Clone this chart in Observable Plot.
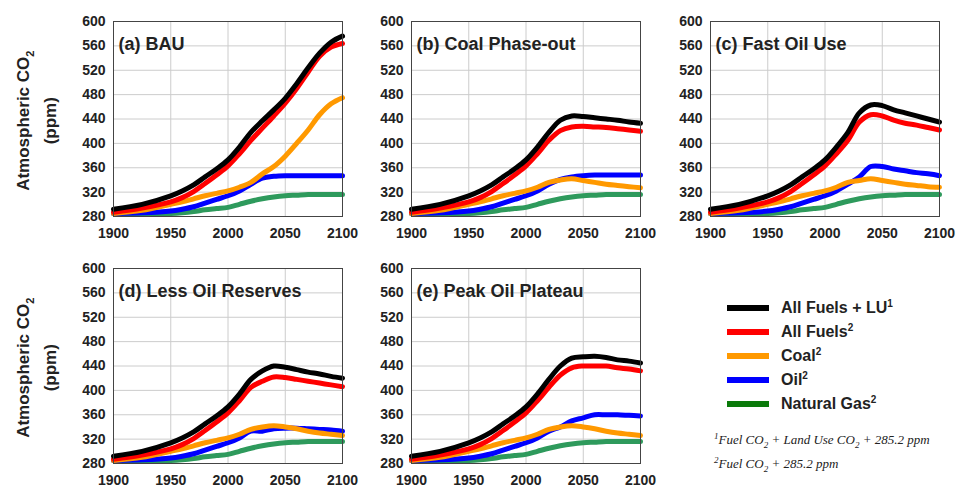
<!DOCTYPE html>
<html><head><meta charset="utf-8">
<script src="https://cdn.jsdelivr.net/npm/d3@7"></script>
<script src="https://cdn.jsdelivr.net/npm/@observablehq/plot@0.6"></script>
<style>
body{margin:0;background:#fff;font-family:"Liberation Sans",Arial,sans-serif;}
#wrap{position:relative;width:972px;height:495px;}
.panel{position:absolute;}
.ylab{position:absolute;font-weight:bold;font-size:17px;text-align:center;transform:rotate(-90deg);transform-origin:center;width:200px;line-height:22px;color:#222}
#legend{position:absolute;left:727px;top:296px;font-weight:bold;font-size:16px;color:#222}
#legend div{height:24px;display:flex;align-items:center}
#legend span.sw{display:inline-block;width:42px;height:6px;margin-right:12px}
#legend sup{font-size:10px;line-height:0;vertical-align:6px}
#notes{position:absolute;left:714px;top:431px;font-family:"Liberation Serif",serif;font-style:italic;font-size:13px;color:#222}
#notes div{height:24px;line-height:18px}
#notes sup,#notes sub{font-size:9px;line-height:0}
</style></head><body>
<div id="wrap"></div>
<script>
const years = [1900,1925,1950,1960,1970,1980,1990,2000,2010,2020,2030,2040,2050,2060,2070,2080,2090,2100];
// shared history 1900-2020
const histBlack = [292,300,314,322,332,345,358,373,394,418];
const histRed   = [287,294,304,311,321,334,348,363,383,405];
const histCoal  = [285,290,300,304,309,314,318,322,328,336];
const histOil   = [285,286,289,292,296,302,308,314,322,333];
const histGas   = [285,285,285,286,288,291,293,295,300,305];
// 2030-2100 by scenario
const aBlack=[437,455,474,498,524,548,566,576], aRed=[425,445,466,490,517,543,558,564], aCoal=[350,362,379,400,422,447,465,475], aOil=[343,346,347,347,347,347,347,347];
const bBlack=[438,445,444,442,440,438,435,433], bRed=[421,427,428,427,426,424,422,420], bCoal=[340,342,339,336,333,331,329,327], bOil=[341,345,347,348,348,348,348,348];
const cBlack=[450,463,462,455,450,445,440,435], cRed=[435,447,445,438,433,430,426,422], cCoal=[339,342,339,336,333,331,329,328], cOil=[345,362,362,358,355,352,350,347];
const dBlack=[432,440,438,434,430,427,423,420], dRed=[415,422,421,418,415,412,409,406], dCoal=[340,342,340,337,333,330,328,326], dOil=[333,337,338,338,337,336,335,333];
const eBlack=[440,453,455,456,454,450,448,445], eRed=[425,437,440,440,440,437,435,432], eCoal=[340,342,340,337,333,330,328,326], eOil=[340,350,355,360,360,360,359,358];
const futGas=[309,312,314,315,316,316,316,316];
const titles=["(a) BAU","(b) Coal Phase-out","(c) Fast Oil Use","(d) Less Oil Reserves","(e) Peak Oil Plateau"];
const seriesNames=["Natural Gas","Oil","Coal","All Fuels","All Fuels + LU"];
const colors=["#2e9a5c","#0000ff","#ff9900","#ff0000","#000000"];
const yTicks=[280,320,360,400,440,480,520,560,600];
const xTicks=[1900,1950,2000,2050,2100];

const futures=[[aBlack,aRed,aCoal,aOil],[bBlack,bRed,bCoal,bOil],[cBlack,cRed,cCoal,cOil],[dBlack,dRed,dCoal,dOil],[eBlack,eRed,eCoal,eOil]];
const pos=[[60,0],[358,0],[657,0],[60,247],[358,247]];
const wrap=document.getElementById("wrap");

futures.forEach(([fb,fr,fc,fo],i)=>{
  const full=[histGas.concat(futGas),histOil.concat(fo),histCoal.concat(fc),histRed.concat(fr),histBlack.concat(fb)];
  const rows=[];
  full.forEach((vals,s)=>vals.forEach((v,j)=>rows.push({year:years[j],ppm:v,series:seriesNames[s]})));
  const chart=Plot.plot({
    width:300,height:247,marginLeft:53,marginRight:18,marginTop:21,marginBottom:31,
    style:{fontFamily:"Liberation Sans, Arial, sans-serif",fontSize:"14px",fontWeight:"bold",color:"#222"},
    x:{domain:[1900,2100],ticks:xTicks,tickFormat:d=>String(d),label:null,tickSize:0,tickPadding:12},
    y:{domain:[280,600],ticks:yTicks,label:null,tickSize:0,tickPadding:8},
    color:{domain:seriesNames,range:colors},
    marks:[
      Plot.gridX(xTicks,{stroke:"#ccc",strokeOpacity:1}),
      Plot.gridY(yTicks,{stroke:"#ccc",strokeOpacity:1}),
      Plot.line(rows,{x:"year",y:"ppm",z:"series",stroke:"series",strokeWidth:5,curve:"catmull-rom"}),
      Plot.frame({stroke:"#444"}),
      Plot.text([titles[i]],{frameAnchor:"top-left",dx:5,dy:16,fontSize:18,fontWeight:"bold",fill:"#222"})
    ]
  });
  chart.classList.add("panel");
  chart.style.left=pos[i][0]+"px";chart.style.top=pos[i][1]+"px";
  wrap.appendChild(chart);
});

[[118],[365]].forEach(([cy])=>{
  const d=document.createElement("div");d.className="ylab";
  d.innerHTML="Atmospheric CO<sub style='font-size:11px'>2</sub><br>(ppm)";
  d.style.left=(38-100)+"px";d.style.top=(cy-22)+"px";
  wrap.appendChild(d);
});

const legLabels=["All Fuels + LU<sup>1</sup>","All Fuels<sup>2</sup>","Coal<sup>2</sup>","Oil<sup>2</sup>","Natural Gas<sup>2</sup>"];
const legColors=["#000","#ff0000","#ff9900","#0000ff","#0a7a0a"];
const leg=document.createElement("div");leg.id="legend";
leg.innerHTML=legLabels.map((l,k)=>`<div><span class="sw" style="background:${legColors[k]}"></span><span>${l}</span></div>`).join("");
wrap.appendChild(leg);
const notes=document.createElement("div");notes.id="notes";
notes.innerHTML="<div><sup>1</sup>Fuel CO<sub>2</sub> + Land Use CO<sub>2</sub> + 285.2 ppm</div><div><sup>2</sup>Fuel CO<sub>2</sub> + 285.2 ppm</div>";
wrap.appendChild(notes);
</script>
</body></html>
